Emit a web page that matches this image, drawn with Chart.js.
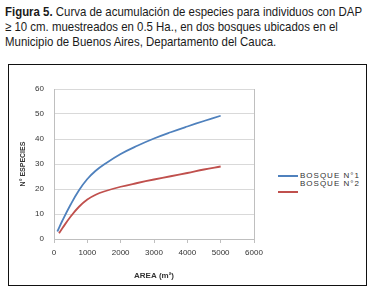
<!DOCTYPE html>
<html>
<head>
<meta charset="utf-8">
<script src="https://cdn.jsdelivr.net/npm/chart.js@4/dist/chart.umd.min.js"></script>
<style>
  html, body { margin: 0; padding: 0; background: #fff; }
  body { width: 375px; height: 298px; position: relative; overflow: hidden; }
  #caption {
    position: absolute; left: 5px; top: 4px;
    font-family: "Liberation Sans", sans-serif;
    font-size: 13px; line-height: 15px; color: #1a1a1a; white-space: nowrap;
    transform-origin: 0 0;
  }
  #frame {
    position: absolute; left: 8px; top: 64px; width: 357px; height: 220px;
    border: 1px solid #111;
  }
  #wrap { position: absolute; left: 9px; top: 65px; width: 260px; height: 220px; }
  .leg { position: absolute; font-family: "Liberation Sans", sans-serif; font-size: 8px; line-height: 8px;
         letter-spacing: 1px; color: #333; white-space: nowrap; }
  .legline { position: absolute; width: 20px; height: 2px; }
</style>
</head>
<body>
<div id="caption"><span id="l1"><b>Figura 5.</b> Curva de acumulación de especies para individuos con DAP</span><br>≥ 10 cm. muestreados en 0.5 Ha., en dos bosques ubicados en el<br>Municipio de Buenos Aires, Departamento del Cauca.</div>
<div id="frame"></div>
<div id="wrap"><canvas id="c"></canvas></div>
<div class="legline" style="left:278px; top:175px; background:#4f81bd;"></div>
<div class="leg" style="left:300px; top:172px;">BOSQUE N°1</div>
<div class="legline" style="left:278px; top:191px; background:#c0504d;"></div>
<div class="leg" style="left:300px; top:180px;">BOSQUE N°2</div>
<script>
const seriesNames = ["BOSQUE N°1", "BOSQUE N°2"];
const areaBosque1 = [100, 250, 500, 750, 1000, 1250, 1500, 2000, 2500, 3000, 3500, 4000, 4500, 5000];
const especiesBosque1 = [3, 7.3, 13.8, 19.5, 24, 27.3, 29.8, 34, 37.3, 40.2, 42.7, 45, 47.2, 49.3];
const areaBosque2 = [150, 250, 500, 750, 1000, 1250, 1500, 2000, 2500, 3000, 3500, 4000, 4500, 5000];
const especiesBosque2 = [2.3, 4.3, 9, 12.9, 15.8, 17.7, 19, 20.9, 22.4, 23.8, 25.1, 26.4, 27.8, 29];
const xTicks = [0, 1000, 2000, 3000, 4000, 5000, 6000];
const yTicks = [0, 10, 20, 30, 40, 50, 60];
const xTitle = "AREA (m²)";
const yTitle = "N° ESPECIES";

// condense caption to the reference's narrow type width
(function () {
  const cap = document.getElementById('caption');
  const w = document.getElementById('l1').getBoundingClientRect().width;
  cap.style.transform = 'scaleX(' + (357 / w) + ')';
})();

const toPts = (xs, ys) => xs.map((x, i) => ({ x: x, y: ys[i] }));
const tickFont = { family: "Liberation Sans", size: 8 };

new Chart(document.getElementById('c'), {
  type: 'line',
  data: {
    datasets: [
      { label: seriesNames[0], data: toPts(areaBosque1, especiesBosque1),
        borderColor: '#4f81bd', borderWidth: 1.8, pointRadius: 0, fill: false, tension: 0.4 },
      { label: seriesNames[1], data: toPts(areaBosque2, especiesBosque2),
        borderColor: '#c0504d', borderWidth: 1.8, pointRadius: 0, fill: false, tension: 0.4 }
    ]
  },
  options: {
    responsive: true, maintainAspectRatio: false, animation: false,
    layout: { padding: { top: 24, right: 15, left: 0, bottom: 0 } },
    plugins: { legend: { display: false }, tooltip: { enabled: false } },
    scales: {
      x: {
        type: 'linear', min: 0, max: 6000,
        afterBuildTicks: s => { s.ticks = xTicks.map(v => ({ value: v })); },
        afterFit: s => { s.height = 46; },
        grid: { display: true, drawOnChartArea: false, drawTicks: true, tickLength: 4, color: '#bfbfbf' },
        border: { display: true, color: '#bfbfbf', width: 1 },
        ticks: { font: tickFont, color: '#333', padding: 5, maxRotation: 0, callback: v => String(v) },
        title: { display: true, text: xTitle, color: '#333',
                 font: { family: "Liberation Sans", size: 8, weight: 'bold' }, padding: { top: 4, bottom: 4 } }
      },
      y: {
        min: 0, max: 60,
        afterBuildTicks: s => { s.ticks = yTicks.map(v => ({ value: v })); },
        afterFit: s => { s.width = 45; },
        grid: { color: '#d9d9d9', lineWidth: 1, drawTicks: false },
        border: { display: true, color: '#bfbfbf', width: 1 },
        ticks: { font: tickFont, color: '#333', padding: 10, callback: v => String(v) },
        title: { display: true, text: yTitle, color: '#333',
                 font: { family: "Liberation Sans", size: 7, weight: 'bold' }, padding: { top: 10, bottom: 4 } }
      },
      y2: {
        position: 'right', min: 0, max: 60,
        afterFit: s => { s.width = 0; },
        grid: { display: false },
        border: { display: true, color: '#bfbfbf', width: 1 },
        ticks: { display: false }
      }
    }
  }
});
</script>
</body>
</html>
